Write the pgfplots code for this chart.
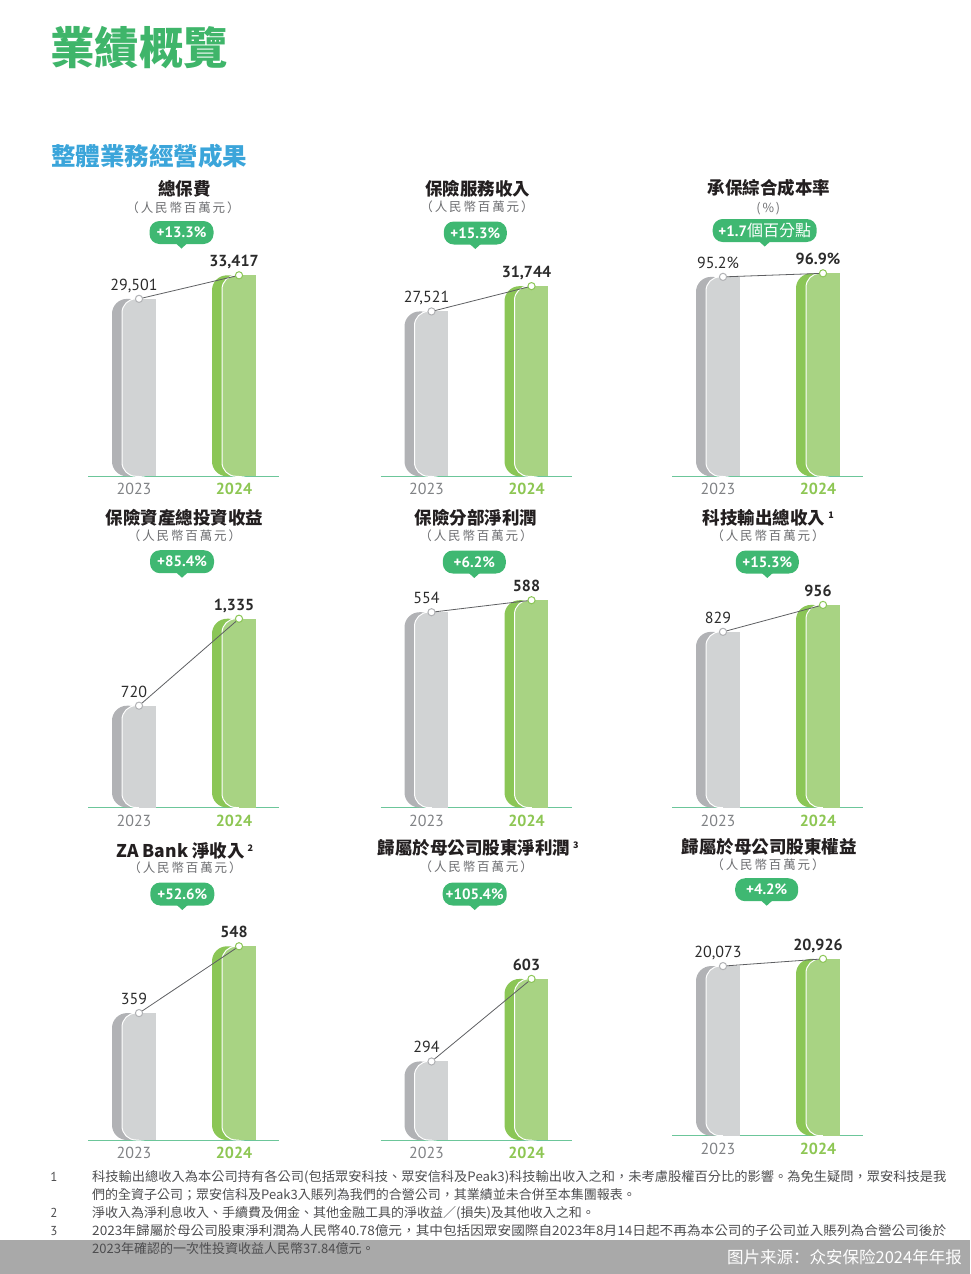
\documentclass[border=0pt]{standalone}
\usepackage{pgfplots}
\pgfplotsset{compat=1.18}
\usepackage{pgfplotstable}
\usepackage{graphicx}
\usepackage{fontspec}
\setmainfont{PT Sans}
\newfontfamily\cjk{Noto Sans CJK TC}
\newfontfamily\cjkls[LetterSpace=15]{Noto Sans CJK TC}
\newfontfamily\cjksc{Noto Sans CJK SC}

\definecolor{gdark}{HTML}{B1B2B5}
\definecolor{glight}{HTML}{D1D3D4}
\definecolor{ndark}{HTML}{8BC656}
\definecolor{nlight}{HTML}{A8D383}
\definecolor{basegreen}{HTML}{6CC69A}
\definecolor{badge}{HTML}{3FB872}
\definecolor{yeargray}{HTML}{808285}
\definecolor{yeargreen}{HTML}{8DC653}
\definecolor{titlec}{HTML}{231F20}
\definecolor{subc}{HTML}{6D6E71}
\definecolor{headgreen}{HTML}{3FB56A}
\definecolor{headblue}{HTML}{3BA5DA}
\definecolor{notec}{HTML}{4D4D4F}
\definecolor{bandc}{HTML}{A9A9A9}
\definecolor{linec}{HTML}{5E5F62}
\definecolor{valc}{HTML}{2B2B2B}

\makeatletter
\newcommand\offtrafo[2]{\begingroup\pgfkeys{/pgf/fpu=true,/pgf/fpu/output format=fixed}\pgfmathparse{#1+(#2)}\xdef\my@res{\pgfmathresult}\endgroup\let\pgfmathresult\my@res}
\makeatother

% ---- data: one table per panel ----
\pgfplotstableread{
x y lab
0 29501 {29,501}
1 33417 {33,417}
}\tA
\pgfplotstableread{
x y lab
0 27521 {27,521}
1 31744 {31,744}
}\tB
\pgfplotstableread{
x y lab
0 95.2 {95.2\%}
1 96.9 {96.9\%}
}\tC
\pgfplotstableread{
x y lab
0 720 {720}
1 1335 {1,335}
}\tD
\pgfplotstableread{
x y lab
0 554 {554}
1 588 {588}
}\tE
\pgfplotstableread{
x y lab
0 829 {829}
1 956 {956}
}\tF
\pgfplotstableread{
x y lab
0 359 {359}
1 548 {548}
}\tG
\pgfplotstableread{
x y lab
0 294 {294}
1 603 {603}
}\tH
\pgfplotstableread{
x y lab
0 20073 {20,073}
1 20926 {20,926}
}\tI

\pgfplotsset{panelstyle/.style={
  scale only axis, width=191pt, height=230pt, anchor=south west,
  xmin=-0.51, xmax=1.40, ymin=0,
  axis x line=bottom, axis y line=none,
  x axis line style={-, draw=basegreen, line width=1pt},
  xtick={0,1},
  xticklabels={{\color{yeargray}2023},{\color{yeargreen}\bfseries 2024}},
  xticklabel style={font=\fontsize{16}{16}\selectfont, inner sep=0pt, anchor=north, yshift=-7pt, xshift=-5pt},
  major tick length=0pt,
  ytick=\empty,
}}

\newcommand\panel[5]{%
\begin{axis}[panelstyle, at={(#1pt,-#2pt)}, ymax=#4,
  y coord trafo/.code={\offtrafo{##1}{#5}},
  y coord inv trafo/.code={\offtrafo{##1}{-#5}}]
% dark back strip
\addplot[ybar, bar width=32pt, bar shift=-11pt, fill=gdark, draw=none, rounded corners=15pt, skip coords between index={1}{2}] table[x=x,y=y]{#3};
\addplot[ybar, bar width=32pt, bar shift=-11pt, fill=ndark, draw=none, rounded corners=15pt, skip coords between index={0}{1}] table[x=x,y=y]{#3};
% light front face
\addplot[ybar, bar width=33pt, bar shift=-0.5pt, fill=glight, draw=white, line width=1pt, rounded corners=14pt, skip coords between index={1}{2}] table[x=x,y=y]{#3};
\addplot[ybar, bar width=33pt, bar shift=-0.5pt, fill=nlight, draw=white, line width=1pt, rounded corners=14pt, skip coords between index={0}{1}] table[x=x,y=y]{#3};
% square right half
\addplot[ybar, bar width=16.5pt, bar shift=8.25pt, fill=glight, draw=none, skip coords between index={1}{2}] table[x=x,y=y]{#3};
\addplot[ybar, bar width=16.5pt, bar shift=8.25pt, fill=nlight, draw=none, skip coords between index={0}{1}] table[x=x,y=y]{#3};
% connecting line
\addplot[linec, line width=0.8pt, no marks] table[x=x,y=y]{#3};
% markers with values
\addplot[only marks, mark=*, mark size=3.6pt, mark options={fill=white, draw=gdark, line width=1pt},
  nodes near coords, point meta=explicit symbolic,
  every node near coord/.append style={font=\fontsize{16}{16}\selectfont, text=valc, inner sep=0pt, text depth=0pt, yshift=8pt, xshift=-5pt},
  skip coords between index={1}{2}] table[x=x,y=y,meta=lab]{#3};
\addplot[only marks, mark=*, mark size=3.6pt, mark options={fill=white, draw=ndark, line width=1pt},
  nodes near coords, point meta=explicit symbolic,
  every node near coord/.append style={font=\bfseries\fontsize{16}{16}\selectfont, text=valc, inner sep=0pt, text depth=0pt, yshift=8pt, xshift=-5pt},
  skip coords between index={0}{1}] table[x=x,y=y,meta=lab]{#3};
\end{axis}}

\newcommand\ttl[3]{\node[text=titlec, font=\cjk\bfseries\fontsize{17.5}{17.5}\selectfont, inner sep=0pt] at (#1,#2) {#3};}
\newcommand\subt[3]{\node[text=subc, font=\cjkls\fontsize{12.5}{12.5}\selectfont, inner sep=0pt] at (#1,#2) {#3};}
\newcommand\fsup[1]{\rlap{\hspace{3pt}\raisebox{6pt}{\fontsize{9}{9}\selectfont\bfseries #1}}}
\newcommand\badge[4]{%
  \node[fill=badge, rounded corners=10pt, minimum width=#3pt, minimum height=23pt, inner sep=0pt, text=white, font=\bfseries\fontsize{15}{15}\selectfont] at (#1,#2) {#4};
  \fill[badge] ({#1-5.5},{#2+11}) -- ({#1+5.5},{#2+11}) -- (#1,{#2+16}) -- cycle;}
\newcommand\note[3]{\node[anchor=west, inner sep=0pt, text=notec, font=\cjk\fontsize{13}{13}\selectfont] at (#1,#2) {#3};}

\begin{document}
\begin{tikzpicture}
\useasboundingbox (0pt,0pt) rectangle (970pt,-1274pt);

% bottom band
\fill[bandc] (0pt,-1240pt) rectangle (970pt,-1274pt);

% ---- panels ----
\panel{88}{476.3}{\tA}{38238}{4200}
\panel{380.5}{476.3}{\tB}{38397}{4200}
\panel{672}{476.3}{\tC}{109.8}{12}
\panel{88}{807.5}{\tD}{1626.6}{180}
\panel{380.5}{807.5}{\tE}{652.5}{75}
\panel{672}{807.5}{\tF}{1085.4}{120}
\panel{88}{1140}{\tG}{650.6}{75}
\panel{380.5}{1140}{\tH}{861}{95}
\panel{672}{1135.7}{\tI}{27219}{3000}

\begin{scope}[x=1pt,y=-1pt]
% headings
\node[anchor=west, inner sep=0pt, text=headgreen, font=\cjk\bfseries\fontsize{44.5}{44.5}\selectfont] at (50,48) {業績概覽};
\node[anchor=west, inner sep=0pt, text=headblue, font=\cjk\bfseries\fontsize{24.5}{24.5}\selectfont] at (51,156) {整體業務經營成果};

% row 1
\ttl{184.5}{189}{總保費}
\ttl{477.5}{188.3}{保險服務收入}
\ttl{768.8}{188.3}{承保綜合成本率}
\subt{183}{207.5}{（人民幣百萬元）}
\subt{477}{206.7}{（人民幣百萬元）}
\subt{768.3}{209}{(\%)}
\badge{181.5}{232.5}{64}{+13.3\%}
\badge{475.3}{233}{63}{+15.3\%}
\badge{764.7}{230.5}{104}{+1.7{\cjk\mdseries\fontsize{16}{16}\selectfont 個百分點}}

% row 2
\ttl{184.7}{517.5}{保險資產總投資收益}
\ttl{476.2}{517.3}{保險分部淨利潤}
\ttl{764}{517.3}{科技輸出總收入\fsup{1}}
\subt{184.5}{536}{（人民幣百萬元）}
\subt{476}{536}{（人民幣百萬元）}
\subt{768}{536}{（人民幣百萬元）}
\badge{182}{561.7}{64}{+85.4\%}
\badge{474.3}{562}{63}{+6.2\%}
\badge{767.3}{562}{63}{+15.3\%}

% row 3
\ttl{180.5}{850.7}{ZA Bank 淨收入\fsup{2}}
\ttl{473.8}{848.3}{歸屬於母公司股東淨利潤\fsup{3}}
\ttl{769.2}{846.7}{歸屬於母公司股東權益}
\subt{185}{867.3}{（人民幣百萬元）}
\subt{476.3}{866.7}{（人民幣百萬元）}
\subt{768}{865}{（人民幣百萬元）}
\badge{182.3}{894}{64}{+52.6\%}
\badge{474.7}{894}{64}{+105.4\%}
\badge{766.7}{889.7}{63}{+4.2\%}

% footnotes
\node[text=notec, font=\fontsize{13}{13}\selectfont, inner sep=0pt] at (54,1177) {1};
\node[text=notec, font=\fontsize{13}{13}\selectfont, inner sep=0pt] at (54,1213) {2};
\node[text=notec, font=\fontsize{13}{13}\selectfont, inner sep=0pt] at (54,1231) {3};
\note{92}{1177}{\resizebox{854pt}{\height}{科技輸出總收入為本公司持有各公司(包括眾安科技、眾安信科及Peak3)科技輸出收入之和，未考慮股權百分比的影響。為免生疑問，眾安科技是我}}
\note{92}{1195}{們的全資子公司；眾安信科及Peak3入賬列為我們的合營公司，其業績並未合併至本集團報表。}
\note{92}{1213}{淨收入為淨利息收入、手續費及佣金、其他金融工具的淨收益／(損失)及其他收入之和。}
\note{92}{1231}{\resizebox{854pt}{\height}{2023年歸屬於母公司股東淨利潤為人民幣40.78億元，其中包括因眾安國際自2023年8月14日起不再為本公司的子公司並入賬列為合營公司後於}}
\note{92}{1249}{2023年確認的一次性投資收益人民幣37.84億元。}

\node[anchor=east, inner sep=0pt, text=white, font=\cjksc\fontsize{16.5}{16.5}\selectfont] at (962,1257) {图片来源：众安保险2024年年报};
\end{scope}
\end{tikzpicture}
\end{document}
